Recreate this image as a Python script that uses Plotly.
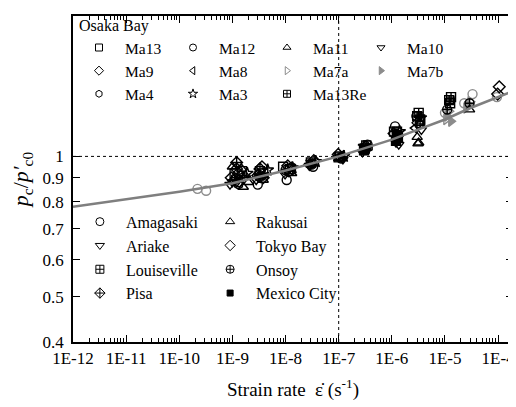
import plotly.graph_objects as go

# ---------------- data ----------------
curve_rate = [1e-12, 1e-11, 1e-10, 1e-9, 1e-8, 1e-7, 3e-7, 1e-6, 3e-6, 1e-5, 3e-5, 1e-4, 2e-4]
curve_ratio = [0.780, 0.808, 0.840, 0.876, 0.933, 1.000, 1.040, 1.086, 1.140, 1.200, 1.270, 1.340, 1.383]

ma13_x = [1.1e-9, 3.3e-9, 1.2e-8, 3.0e-8, 1.05e-7, 3.1e-7, 1.25e-6, 3.4e-6, 1.5e-9, 9.0e-9]
ma13_y = [0.92, 0.93, 0.94, 0.97, 1.00, 1.04, 1.11, 1.20, 0.93, 0.95]
ma12_x = [1.3e-9, 3.0e-9, 1.05e-8, 3.3e-8, 1.1e-7, 3.5e-7, 1.15e-6, 2.9e-6]
ma12_y = [0.88, 0.87, 0.89, 0.95, 0.99, 1.06, 1.16, 1.22]
ma11_x = [1.0e-9, 1.6e-9, 1.75e-9, 3.8e-9, 1.3e-8, 1.0e-7, 3.2e-6, 3.0e-6]
ma11_y = [0.95, 0.86, 0.91, 0.89, 0.92, 0.99, 1.07, 1.10]
ma10_x = [0.9e-9, 2.8e-9, 9.8e-9, 2.8e-8, 1.2e-7, 2.8e-7, 1.35e-6, 3.6e-6, 1.2e-9, 3.9e-9]
ma10_y = [0.87, 0.89, 0.915, 0.955, 0.985, 1.02, 1.06, 1.14, 0.88, 0.91]
ma9_x = [1.2e-9, 3.6e-9, 1.1e-8, 3.4e-8, 9.8e-8, 3.3e-7, 1.1e-6, 3.1e-6, 0.95e-9, 3.0e-9]
ma9_y = [0.94, 0.95, 0.955, 0.98, 1.01, 1.05, 1.12, 1.18, 0.90, 0.91]
ma8_x = [1.4e-9, 4.2e-9, 1.25e-8, 2.7e-8, 1.15e-7, 3.0e-7, 1.3e-6, 2.7e-6]
ma8_y = [0.90, 0.92, 0.935, 0.96, 1.005, 1.035, 1.09, 1.15]
ma7a_x = [1.05e-5, 1.2e-5, 2.6e-5, 3.0e-5]
ma7a_y = [1.20, 1.25, 1.28, 1.31]
ma7b_x = [1.1e-5, 1.3e-5, 2.8e-5, 2.5e-5]
ma7b_y = [1.22, 1.19, 1.29, 1.27]
ma4_x = [1.15e-9, 3.2e-9, 1.15e-8, 3.2e-8, 1.05e-7, 3.6e-7, 1.2e-6, 3.3e-6, 1.3e-9, 1.3e-8]
ma4_y = [0.90, 0.905, 0.925, 0.965, 0.995, 1.045, 1.08, 1.17, 0.87, 0.95]
ma3_x = [1.9e-9, 4.6e-9, 1.35e-8, 3.7e-8, 1.25e-7, 3.0e-7, 1.4e-6, 3.5e-6]
ma3_y = [0.92, 0.935, 0.945, 0.975, 1.00, 1.05, 1.13, 1.21]
ma13re_x = [1.0e-7, 3.3e-7, 1.25e-6, 3.2e-6, 1.3e-5, 1.2e-5]
ma13re_y = [0.995, 1.055, 1.13, 1.24, 1.34, 1.32]

amagasaki_x = [2.2e-10, 3.2e-10, 1.0e-5, 2.3e-5, 3.3e-5, 9.5e-5]
amagasaki_y = [0.852, 0.844, 1.24, 1.30, 1.36, 1.34]
rakusai_x = [1.5e-9, 2.0e-9, 3.1e-6, 2.9e-5]
rakusai_y = [0.94, 0.88, 1.065, 1.26]
ariake_x = [1.0e-9, 3.4e-9, 1.1e-8, 3.0e-8, 1.2e-6]
ariake_y = [0.88, 0.90, 0.93, 0.97, 1.07]
tokyo_x = [1.05e-4, 9.8e-5, 1.3e-9, 3.8e-9]
tokyo_y = [1.41, 1.36, 0.92, 0.90]
louis_x = [1.1e-6, 3.0e-6, 3.4e-6, 1.25e-5]
louis_y = [1.13, 1.22, 1.19, 1.30]
onsoy_x = [3.1e-9, 1.0e-8, 3.1e-8, 1.1e-5, 2.9e-5]
onsoy_y = [0.915, 0.935, 0.96, 1.26, 1.30]
pisa_x = [1.2e-9, 1.1e-9, 3.3e-9]
pisa_y = [0.97, 0.89, 0.94]
mexico_x = [3.0e-7, 1.2e-6, 1.3e-6]
mexico_y = [1.03, 1.08, 1.10]

x_tickvals = [1e-12, 1e-11, 1e-10, 1e-9, 1e-8, 1e-7, 1e-6, 1e-5, 1e-4]
x_ticktext = ["1E-12", "1E-11", "1E-10", "1E-9", "1E-8", "1E-7", "1E-6", "1E-5", "1E-4"]
y_tickvals = [0.4, 0.5, 0.6, 0.7, 0.8, 0.9, 1, 2]
y_ticktext = ["0.4", "0.5", "0.6", "0.7", "0.8", "0.9", "1", "2"]
ref_rate = 1e-7
ref_ratio = 1.0

# ---------------- style ----------------
BLACK = "black"
GRAY = "#8c8c8c"
FONT = "serif"

osaka = [
    ("Ma13", ma13_x, ma13_y, "square-open", BLACK),
    ("Ma12", ma12_x, ma12_y, "circle-open", BLACK),
    ("Ma11", ma11_x, ma11_y, "triangle-up-open", BLACK),
    ("Ma10", ma10_x, ma10_y, "triangle-down-open", BLACK),
    ("Ma9", ma9_x, ma9_y, "diamond-open", BLACK),
    ("Ma8", ma8_x, ma8_y, "triangle-left-open", BLACK),
    ("Ma7a", ma7a_x, ma7a_y, "triangle-right-open", GRAY),
    ("Ma7b", ma7b_x, ma7b_y, "triangle-right", GRAY),
    ("Ma4", ma4_x, ma4_y, "hexagon-open", BLACK),
    ("Ma3", ma3_x, ma3_y, "star-open", BLACK),
    ("Ma13Re", ma13re_x, ma13re_y, "square-cross-open", BLACK),
]
others_col1 = [
    ("Amagasaki", amagasaki_x, amagasaki_y, "circle-open", GRAY),
    ("Ariake", ariake_x, ariake_y, "triangle-down-open", BLACK),
    ("Louiseville", louis_x, louis_y, "square-cross-open", BLACK),
    ("Pisa", pisa_x, pisa_y, "diamond-cross-open", BLACK),
]
others_col2 = [
    ("Rakusai", rakusai_x, rakusai_y, "triangle-up-open", BLACK),
    ("Tokyo Bay", tokyo_x, tokyo_y, "diamond-open", BLACK),
    ("Onsoy", onsoy_x, onsoy_y, "circle-cross-open", BLACK),
    ("Mexico City", mexico_x, mexico_y, "square", BLACK),
]

fig = go.Figure()

for name, xs, ys, sym, col in osaka + others_col1 + others_col2:
    fig.add_trace(go.Scatter(
        x=xs, y=ys, mode="markers", showlegend=False,
        marker=dict(symbol=sym, size=9, color=col, line=dict(color=col, width=1.4)),
    ))

fig.add_trace(go.Scatter(x=[ref_rate, ref_rate], y=[0.4, 2], mode="lines", showlegend=False,
                         line=dict(color=BLACK, width=1, dash="dot")))
fig.add_trace(go.Scatter(x=[1e-12, 10 ** -3.72], y=[ref_ratio, ref_ratio], mode="lines", showlegend=False,
                         line=dict(color=BLACK, width=1, dash="dot")))

fig.add_trace(go.Scatter(x=curve_rate, y=curve_ratio, mode="lines", showlegend=False,
                         line=dict(color="#7f7f7f", width=2.5)))

def legend_entry(name, sym, col, legend, size):
    fig.add_trace(go.Scatter(
        x=[None], y=[None], mode="markers", name=name, legend=legend,
        marker=dict(symbol=sym, size=size, color=col, line=dict(color=col, width=1)),
    ))

for name, xs, ys, sym, col in osaka:
    legend_entry(name, sym, col, "legend", 7)
for name, xs, ys, sym, col in others_col1:
    legend_entry(name, sym, BLACK, "legend2", 8)
for name, xs, ys, sym, col in others_col2:
    legend_entry(name, sym, BLACK, "legend3", 8 if sym != "square" else 6)

common_leg = dict(bgcolor="rgba(0,0,0,0)", itemwidth=42, itemsizing="trace",
                  tracegroupgap=0, xanchor="left", yanchor="top",
                  itemclick=False, itemdoubleclick=False)

# the page body adds an 8 px offset, so margins are shifted to compensate
fig.update_layout(
    width=516, height=407,
    margin=dict(l=65, r=11, t=8, b=73, autoexpand=False),
    paper_bgcolor="white", plot_bgcolor="white",
    font=dict(family=FONT, color=BLACK, size=16),
    legend=dict(title=dict(text="\u00a0Osaka Bay", side="top", font=dict(size=16, family=FONT)),
                orientation="h", x=0.0, y=1.018, entrywidth=37, entrywidthmode="pixels",
                font=dict(size=15.5, family=FONT), **common_leg),
    legend2=dict(orientation="v", x=0.002, y=0.421, font=dict(size=16, family=FONT), **common_leg),
    legend3=dict(orientation="v", x=0.298, y=0.421, font=dict(size=16, family=FONT), **common_leg),
    xaxis=dict(
        type="log", range=[-12, -3.72],
        tickvals=x_tickvals, ticktext=x_ticktext,
        ticks="inside", ticklen=7, tickwidth=1, tickcolor=BLACK,
        minor=dict(ticks="inside", ticklen=4, tickwidth=1, dtick="D1", tickcolor=BLACK, showgrid=False),
        showline=True, linecolor=BLACK, linewidth=1.5, mirror="ticks",
        showgrid=False, zeroline=False,
        tickfont=dict(size=17, family=FONT), ticklabelstandoff=0,
        title=dict(text="Strain rate  ε̇ (s<sup>-1</sup>)", font=dict(size=19, family=FONT), standoff=16),
    ),
    yaxis=dict(
        type="log", range=[-0.39794, 0.30103],
        tickvals=y_tickvals, ticktext=y_ticktext,
        ticks="inside", ticklen=7, tickwidth=1, tickcolor=BLACK,
        showline=True, linecolor=BLACK, linewidth=1.5, mirror="ticks",
        showgrid=False, zeroline=False,
        tickfont=dict(size=17, family=FONT), ticklabelstandoff=4,
        title=dict(text="<i>p</i><sub>c</sub>/<i>p′</i><sub>c0</sub>", font=dict(size=22, family=FONT), standoff=20),
    ),
)

fig.write_html("out.html")
